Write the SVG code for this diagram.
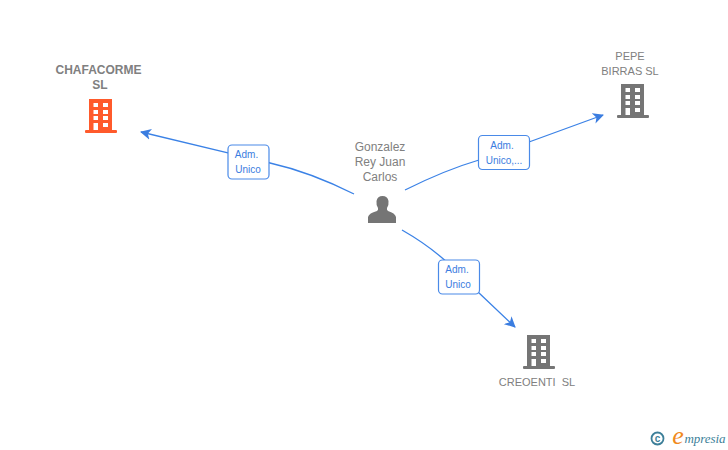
<svg xmlns="http://www.w3.org/2000/svg" width="728" height="450" viewBox="0 0 728 450">
<style>
text{font-family:"Liberation Sans",Arial,sans-serif;text-anchor:middle}
.n{font-size:12px;fill:#808080}
.s{font-size:11px;fill:#808080}
.b{font-weight:bold}
.l{font-size:10px;fill:#3b7de0}
.c{fill:none;stroke:#3b82e6;stroke-width:1.3}
.box{fill:#fff;stroke:#4a8ae8;stroke-width:1.2}
.g{fill:#757575}
.o{fill:#ff5a2b}
.w{fill:#fff}
</style>
<defs>
<marker id="a" viewBox="0 0 12 12" refX="10" refY="6" markerWidth="12" markerHeight="12" markerUnits="userSpaceOnUse" orient="auto"><path d="M0 0.500 L11 6 L0 11.500 L3 6 Z" fill="#3b7de0"/></marker>
<g id="bld">
<rect x="4" y="0" width="23" height="32"/>
<rect x="0" y="31" width="32" height="3" rx="1"/>
<g class="w">
<rect x="8.500" y="4" width="4.500" height="4"/><rect x="18" y="4" width="5" height="4"/>
<rect x="8.500" y="11" width="4.500" height="4"/><rect x="18" y="11" width="5" height="4"/>
<rect x="8.500" y="17" width="4.500" height="4"/><rect x="18" y="17" width="5" height="4"/>
<rect x="8.500" y="24" width="4.500" height="7"/><rect x="18" y="24" width="5" height="4"/>
</g>
</g>
</defs>
<rect width="728" height="450" fill="#fff"/>
<g id="connectors">
<path class="c" d="M354 194 Q310 172 270 163 L141 132" marker-end="url(#a)"/>
<path class="c" d="M405 190 Q445 170 479 160 M529 142 L603 115" marker-end="url(#a)"/>
<path class="c" d="M402 230 Q430 246 450 265 M478 292 L515 327" marker-end="url(#a)"/>
</g>
<g id="edge-label-1"><rect class="box" x="228" y="145" width="41" height="34" rx="4"/><text class="l" x="246.500" y="158">Adm.</text><text class="l" x="248" y="173">Unico</text></g>
<g id="edge-label-2"><rect class="box" x="478.500" y="135.500" width="51" height="34" rx="4"/><text class="l" x="502" y="149">Adm.</text><text class="l" x="504" y="164">Unico,...</text></g>
<g id="edge-label-3"><rect class="box" x="438.500" y="260" width="41" height="34" rx="4"/><text class="l" x="457" y="273">Adm.</text><text class="l" x="458" y="288">Unico</text></g>
<g id="node-chafacorme"><text class="n b" x="98.500" y="74">CHAFACORME</text><text class="n b" x="100" y="89">SL</text><use href="#bld" class="o" x="85" y="99"/></g>
<g id="node-pepe"><text class="s" x="630" y="60">PEPE</text><text class="s" x="630" y="75">BIRRAS SL</text><use href="#bld" class="g" x="617" y="84"/></g>
<g id="node-creoenti"><use href="#bld" class="g" x="523" y="335"/><text class="s" x="537" y="386" xml:space="preserve">CREOENTI  SL</text></g>
<g id="node-gonzalez"><text class="n" x="380" y="151">Gonzalez</text><text class="n" x="380" y="166">Rey Juan</text><text class="n" x="380" y="181">Carlos</text>
<path class="g" d="M368 223 V217 Q369 213 377 211 Q378.500 210 378 208 Q376 205 376.500 201 Q377.500 196 382.500 196 Q387.500 196 388.500 201 Q389 205 387 208 Q386.500 210 388 211 Q395 213 396 217 V223 Z"/></g>
<g id="logo"><circle cx="657.500" cy="438.500" r="6" fill="none" stroke="#3d7f99" stroke-width="1.8"/><text x="657.500" y="442" style="font-size:10px;font-weight:bold;fill:#3d7f99">c</text><text x="678" y="444" style="font-size:26px;font-style:italic;fill:#f08a1d;font-family:'Liberation Serif',serif">e</text><text x="705" y="443" style="font-size:13px;font-style:italic;fill:#3d7f99;font-family:'Liberation Serif',serif" textLength="41">mpresia</text></g>
</svg>
